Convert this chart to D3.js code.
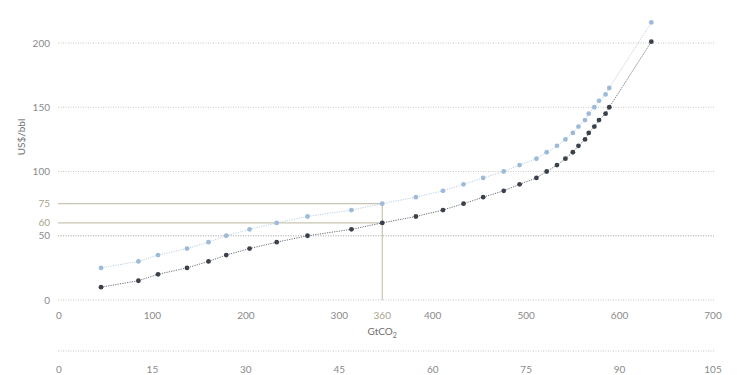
<!DOCTYPE html>
<html>
<head>
<meta charset="utf-8">
<script src="https://cdn.jsdelivr.net/npm/d3@7"></script>
<style>
  body { margin: 0; background: #fff; }
  text { font-family: Lato, "Open Sans", sans-serif; }
</style>
</head>
<body>
<div id="chart"></div>
<script>
// cumulative volume (GtCO2) for each step of the curve
const volume = [45, 85, 106, 137, 160, 179, 204, 233, 266, 313, 346, 382, 411, 433, 454,
                476, 493, 511, 522, 533, 542, 550, 556, 563, 567, 573, 578, 585, 589, 634];
// breakeven price, base case (dark) and higher case (light), US$/bbl
const priceLow = [10, 15, 20, 25, 30, 35, 40, 45, 50, 55, 60, 65, 70, 75, 80,
                  85, 90, 95, 100, 105, 110, 115, 120, 125, 130, 135, 140, 145, 150, 201];
const priceHigh = [25, 30, 35, 40, 45, 50, 55, 60, 65, 70, 75, 80, 85, 90, 95,
                   100, 105, 110, 115, 120, 125, 130, 135, 140, 145, 150, 155, 160, 165, 216];

const yTicks = [0, 50, 100, 150, 200];
const markTicks = [60, 75];
const xTicks = [0, 100, 200, 300, 400, 500, 600, 700];
const x2Ticks = [0, 15, 30, 45, 60, 75, 90, 105];
const markIndex = 10;      // point picked out by the guide lines
const markLabel = "360";

const width = 750, height = 375;
const margin = {left: 59, right: 37, top: 43, bottom: 75};

const svg = d3.select("#chart").append("svg")
    .attr("width", width)
    .attr("height", height);

const x = d3.scaleLinear().domain([0, 700]).range([margin.left, width - margin.right]);
const x2 = d3.scaleLinear().domain([0, 105]).range([margin.left, width - margin.right]);
const y = d3.scaleLinear().domain([0, 200]).range([300, margin.top]);

// grid lines
svg.append("g").selectAll("line")
    .data(yTicks.concat([50]))
    .enter().append("line")
    .attr("x1", x(0) - 1).attr("x2", x(700) + 1)
    .attr("y1", d => y(d)).attr("y2", d => y(d))
    .attr("stroke", "#b8b8b8")
    .attr("stroke-width", 0.8)
    .attr("stroke-dasharray", "1,1.5");

// y labels
svg.append("g").selectAll("text")
    .data(yTicks)
    .enter().append("text")
    .attr("x", 50).attr("y", d => y(d))
    .attr("dy", "0.35em")
    .attr("text-anchor", "end")
    .attr("font-size", 10)
    .attr("fill", "#8a8a8a")
    .text(d => d);

// guide lines to the highlighted point
const mx = x(volume[markIndex]);
svg.append("g").selectAll("line")
    .data(markTicks)
    .enter().append("line")
    .attr("x1", x(0) - 1).attr("x2", mx)
    .attr("y1", d => y(d)).attr("y2", d => y(d))
    .attr("stroke", "#c8c5b2")
    .attr("stroke-width", 1.2);

svg.append("line")
    .attr("x1", mx).attr("x2", mx)
    .attr("y1", y(priceHigh[markIndex])).attr("y2", y(0))
    .attr("stroke", "#c8c5b2")
    .attr("stroke-width", 1.2);

svg.append("g").selectAll("text")
    .data(markTicks)
    .enter().append("text")
    .attr("x", 50).attr("y", d => y(d))
    .attr("dy", "0.35em")
    .attr("text-anchor", "end")
    .attr("font-size", 10)
    .attr("fill", "#a8a48c")
    .text(d => d);

svg.append("text")
    .attr("transform", "translate(25,137) rotate(-90)")
    .attr("text-anchor", "middle")
    .attr("font-size", 10)
    .attr("fill", "#707070")
    .text("US$/bbl");

// x labels
svg.append("g").selectAll("text")
    .data(xTicks)
    .enter().append("text")
    .attr("x", d => x(d)).attr("y", 319)
    .attr("text-anchor", "middle")
    .attr("font-size", 10)
    .attr("fill", "#8a8a8a")
    .text(d => d);

svg.append("text")
    .attr("x", mx).attr("y", 319)
    .attr("text-anchor", "middle")
    .attr("font-size", 10)
    .attr("fill", "#a8a48c")
    .text(markLabel);

const title = svg.append("text")
    .attr("x", mx).attr("y", 335)
    .attr("text-anchor", "middle")
    .attr("font-size", 10)
    .attr("fill", "#707070");
title.append("tspan").text("GtCO");
title.append("tspan").attr("font-size", 7).attr("dy", 3).text("2");

// second axis
svg.append("line")
    .attr("x1", x2(0) - 1).attr("x2", x2(105) + 1)
    .attr("y1", 351).attr("y2", 351)
    .attr("stroke", "#b8b8b8")
    .attr("stroke-width", 0.8)
    .attr("stroke-dasharray", "1,1.5");

svg.append("g").selectAll("text")
    .data(x2Ticks)
    .enter().append("text")
    .attr("x", d => x2(d)).attr("y", 373)
    .attr("text-anchor", "middle")
    .attr("font-size", 10)
    .attr("fill", "#8a8a8a")
    .text(d => d);

// series
const series = [
    {values: priceHigh, color: "#9dbbd9", line: "#b3c9df"},
    {values: priceLow, color: "#3b414b", line: "#5a5f66"}
];

const line = d3.line()
    .x(d => x(d[0]))
    .y(d => y(d[1]));

series.forEach(function(s) {
    let pts = volume.map((v, i) => [v, s.values[i]]);
    svg.append("path")
        .attr("d", line(pts))
        .attr("fill", "none")
        .attr("stroke", s.line)
        .attr("stroke-width", 0.9)
        .attr("stroke-dasharray", "1.2,1.2");
    svg.append("g").selectAll("circle")
        .data(pts)
        .enter().append("circle")
        .attr("cx", d => x(d[0]))
        .attr("cy", d => y(d[1]))
        .attr("r", 2.4)
        .attr("fill", s.color);
});
</script>
</body>
</html>
